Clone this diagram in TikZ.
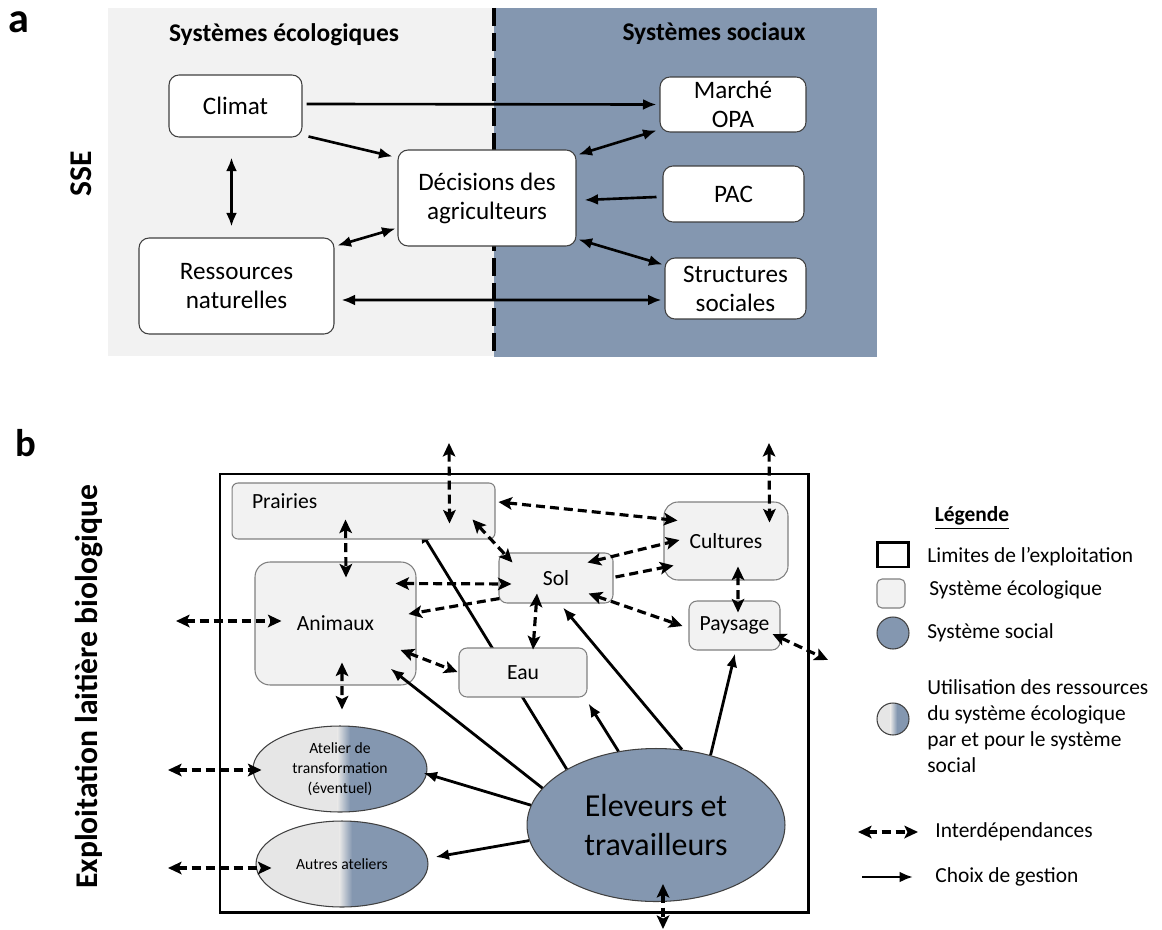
\documentclass[tikz,border=0pt]{standalone}
\usepackage{fontspec}
\setmainfont{Carlito}
\usepackage{xcolor}
\usepackage{tikz}
\usetikzlibrary{arrows.meta, calc, shapes.geometric}
\definecolor{ecoGris}{HTML}{F2F2F2}
\definecolor{socBleu}{HTML}{8497B0}
\definecolor{mixGris}{HTML}{E6E6E6}
\definecolor{bordGris}{HTML}{7F7F7F}
\definecolor{bordFonce}{HTML}{404040}
\pgfdeclarelayer{fond}
\pgfsetlayers{fond,main}
\tikzset{
	pointe/.tip={Stealth[length=2.7mm, width=2.5mm, inset=0.6mm]},
	tete/.tip={Latex[length=2.7mm, width=2.2mm]},
	boite/.style={draw=bordFonce, line width=0.6pt, fill=white, rounded corners=0.2cm, align=center, inner sep=0pt, font=\fontsize{14.3}{16.5}\selectfont},
	titre/.style={font=\bfseries\fontsize{14.5}{17}\selectfont},
	eco/.style={draw=bordGris, line width=0.6pt, fill=ecoGris, rounded corners=0.16cm, align=center, inner sep=0pt, font=\fontsize{12.3}{14.7}\selectfont},
	social/.style={ellipse, draw=bordFonce, line width=0.6pt, fill=socBleu, inner sep=0pt, align=center},
	mixte/.style={draw=bordFonce, line width=0.6pt, fill=socBleu, inner sep=0pt, align=center,
		path picture={
			\fill[mixGris] (path picture bounding box.south west) rectangle ([xshift=-0.05cm]path picture bounding box.north);
			\shade[left color=mixGris, right color=socBleu] ([xshift=-0.05cm]path picture bounding box.south) rectangle ([xshift=#1]path picture bounding box.north);
		}},
	mixte/.default=0.2cm,
	fleche/.style={line width=1.5pt, -tete},
	fleches/.style={line width=1.5pt, tete-tete},
	choix/.style={line width=1.6pt, -tete},
	interdep/.style={line width=1.8pt, dash pattern=on 1.8mm off 1mm, pointe-pointe},
	interdepun/.style={line width=1.8pt, dash pattern=on 1.8mm off 1mm, -pointe},
	legtexte/.style={anchor=west, inner sep=0pt, align=left, font=\fontsize{12.2}{14.7}\selectfont}
}

\begin{document}
\begin{tikzpicture}[x=0.02cm, y=-0.02cm]
	\useasboundingbox (0,0) rectangle (1162,929);

	% a : SSE
	\fill[ecoGris] (108,8) rectangle (494,356);
	\fill[socBleu] (494,8) rectangle (877,357);
	\draw[line width=2.5pt, dash pattern=on 0.36cm off 0.14cm] (494,8) -- (494,357);

	\node[font=\bfseries\fontsize{24}{28}\selectfont] (lettreA) at (19,22) {a};
	\node[rotate=90, font=\bfseries\fontsize{18}{21}\selectfont] (sse) at (81,174) {SSE};
	\node[titre] (titreEco) at (284,35) {Systèmes écologiques};
	\node[titre] (titreSoc) at (714,34) {Systèmes sociaux};

	\node[boite, minimum width=2.66cm, minimum height=1.24cm] (climat) at (235.5,106) {Climat};
	\node[boite, minimum width=3.9cm, minimum height=1.92cm] (ressources) at (236.5,286) {Ressources\\naturelles};
	\node[boite, minimum width=3.56cm, minimum height=1.92cm] (decisions) at (487,198) {Décisions des\\agriculteurs};
	\node[boite, minimum width=2.92cm, minimum height=1.1cm] (marche) at (733,104.5) {Marché\\OPA};
	\node[boite, minimum width=2.82cm, minimum height=1.12cm] (pac) at (733.5,194) {PAC};
	\node[boite, minimum width=2.82cm, minimum height=1.22cm] (structures) at (735.5,288.5) {Structures\\sociales};

	\draw[fleche] ($ (climat.east)+(4,-2) $) -- ($ (marche.west)+(-3,0) $);
	\draw[fleche] ($ (climat.south east)+(6,-1) $) -- ($ (decisions.north west)+(-5,7) $);
	\draw[fleches] ($ (climat.south)+(-4,20) $) -- ($ (ressources.north)+(-5,-11) $);
	\draw[fleches] ($ (ressources.north east)+(3,8) $) -- ($ (decisions.south west)+(-2,-18) $);
	\draw[fleches] ($ (ressources.east)+(7,14) $) -- ($ (structures.west)+(-3,11.5) $);
	\draw[fleches] ($ (decisions.north east)+(2,5) $) -- ($ (marche.south west)+(-3,-2) $);
	\draw[fleche] ($ (pac.west)+(-6,3) $) -- ($ (decisions.east)+(8,2) $);
	\draw[fleches] ($ (decisions.south east)+(2,-7) $) -- ($ (structures.north west)+(-2,7) $);

	% b : exploitation
	\node[font=\bfseries\fontsize{22}{26}\selectfont] (lettreB) at (26,443) {b};
	\node[rotate=90, font=\bfseries\fontsize{18}{21}\selectfont] (exploitation) at (89,687) {Exploitation laitière biologique};

	\begin{pgfonlayer}{fond}
		\draw[line width=1.7pt] (220,474) rectangle (808,912);
	\end{pgfonlayer}

	\node[eco, rounded corners=0.12cm, minimum width=5.26cm, minimum height=1.12cm, text width=4.46cm, align=left, text depth=0.38cm] (prairies) at (363.5,511) {Prairies};
	\node[eco, rounded corners=0.3cm, minimum width=3.22cm, minimum height=2.46cm] (animaux) at (335.5,623.5) {Animaux};
	\node[eco, minimum width=2.28cm, minimum height=1cm] (sol) at (556,578) {Sol};
	\node[eco, minimum width=2.56cm, minimum height=0.98cm] (eau) at (523,672.5) {Eau};
	\node[eco, rounded corners=0.28cm, minimum width=2.48cm, minimum height=1.56cm] (cultures) at (726,541) {Cultures};
	\node[eco, minimum width=1.82cm, minimum height=0.98cm] (paysage) at (734.5,625.5) {Paysage};
	\node[mixte, ellipse, minimum width=3.48cm, minimum height=1.72cm, font=\fontsize{8.9}{11.3}\selectfont] (atelier) at (340,769) {Atelier de\\transformation\\(éventuel)};
	\node[mixte, ellipse, minimum width=3.44cm, minimum height=1.72cm, font=\fontsize{8.9}{11.3}\selectfont] (autres) at (342,864) {Autres ateliers};
	\node[social, minimum width=5.16cm, minimum height=3.06cm, font=\fontsize{18.2}{22.7}\selectfont] (eleveurs) at (656,825) {Eleveurs et\\travailleurs};

	\coordinate (hautP) at (449,443);
	\coordinate (hautC) at (769,443);
	\coordinate (gaucheA) at (176,621);
	\coordinate (gaucheAt) at (168,770);
	\coordinate (gaucheAu) at (168,868);
	\coordinate (droiteP) at (828,660);
	\coordinate (basE) at (663,929);

	% interdependances
	\draw[interdep] (hautP) -- ($ (prairies.south east)+(-46,-16) $);
	\draw[interdep] ($ (prairies.south west)+(114,-20) $) -- ($ (animaux.north)+(10.5,16) $);
	\draw[interdep] ($ (prairies.south east)+(-23,-20) $) -- ($ (sol.north west)+(14,10) $);
	\draw[interdep] ($ (prairies.east)+(3,-9) $) -- ($ (cultures.north west)+(14,19) $);
	\draw[interdep] ($ (animaux.north east)+(-21,22) $) -- ($ (sol.west)+(13,6) $);
	\draw[interdepun] ($ (sol.south west)+(1,-5) $) -- ($ (animaux.east)+(-8,-9.5) $);
	\draw[interdep] (gaucheA) -- ($ (animaux.west)+(27,-2.5) $);
	\draw[interdep] ($ (animaux.east)+(-16,26.5) $) -- ($ (eau.west)+(-1,-0.5) $);
	\draw[interdep] ($ (animaux.south)+(6.5,-23) $) -- ($ (atelier.north)+(2,-16) $);
	\draw[interdep] ($ (sol.south)+(-19,-10) $) -- ($ (eau.north)+(10,2) $);
	\draw[interdep] ($ (sol.north east)+(-26,10) $) -- ($ (cultures.west)+(16,-1) $);
	\draw[interdepun] ($ (sol.east)+(2,-1) $) -- ($ (cultures.south west)+(10,-15) $);
	\draw[interdep] ($ (sol.south east)+(-25,-10) $) -- ($ (paysage.west)+(-6,0.5) $);
	\draw[interdep] (hautC) -- ($ (cultures.north east)+(-19,21) $);
	\draw[interdep] ($ (cultures.south)+(12,-14) $) -- ($ (paysage.north)+(3.5,12) $);
	\draw[interdep] ($ (paysage.east)+(-8,8.5) $) -- (droiteP);
	\draw[interdep] (gaucheAt) -- ($ (atelier.west)+(9,1) $);
	\draw[interdep] (gaucheAu) -- ($ (autres.west)+(16,4) $);
	\draw[interdep] ($ (eleveurs.south)+(7,-18) $) -- (basE);

	% choix de gestion
	\begin{pgfonlayer}{fond}
		\draw[choix] (eleveurs.148) -- ($ (prairies.south west)+(188,-10) $);
	\end{pgfonlayer}
	\draw[choix] (eleveurs.162) -- ($ (animaux.south east)+(-26,-17) $);
	\draw[choix] (eleveurs.171) -- ($ (atelier.east)+(-4,4) $);
	\draw[choix] (eleveurs.187) -- ($ (autres.east)+(7,-7) $);
	\draw[choix] (eleveurs.117) -- ($ (eau.south east)+(1,6) $);
	\draw[choix] (eleveurs.71) -- ($ (sol.south)+(7,4) $);
	\draw[choix] (eleveurs.52) -- ($ (paysage.south)+(0.5,3) $);

	% legende
	\node[font=\bfseries\fontsize{12.2}{14.7}\selectfont] (legende) at (972,518) {\underline{Légende}};
	\node[draw, line width=1.7pt, minimum width=0.62cm, minimum height=0.5cm, inner sep=0pt] (legLimites) at (892.5,554.5) {};
	\node[legtexte] (txtLimites) at (927,557) {Limites de l’exploitation};
	\node[eco, rounded corners=0.1cm, minimum width=0.56cm, minimum height=0.58cm] (legEco) at (891,593.5) {};
	\node[legtexte] (txtEco) at (929,590) {Système écologique};
	\node[social, circle, minimum size=0.64cm] (legSocial) at (893,633) {};
	\node[legtexte] (txtSocial) at (927,633) {Système social};
	\node[mixte=0.08cm, circle, minimum size=0.64cm] (legMixte) at (893,719) {};
	\node[legtexte] (txtMixte) at (927,726) {Utilisation des ressources\\du système écologique\\par et pour le système\\social};
	\coordinate (legI1) at (858,832);
	\coordinate (legI2) at (918,832);
	\draw[interdep] (legI1) -- (legI2);
	\node[legtexte] (txtInterdep) at (935,832) {Interdépendances};
	\coordinate (legC1) at (862,877);
	\coordinate (legC2) at (913,877);
	\draw[choix] (legC1) -- (legC2);
	\node[legtexte] (txtChoix) at (935,877) {Choix de gestion};

\end{tikzpicture}
\end{document}
